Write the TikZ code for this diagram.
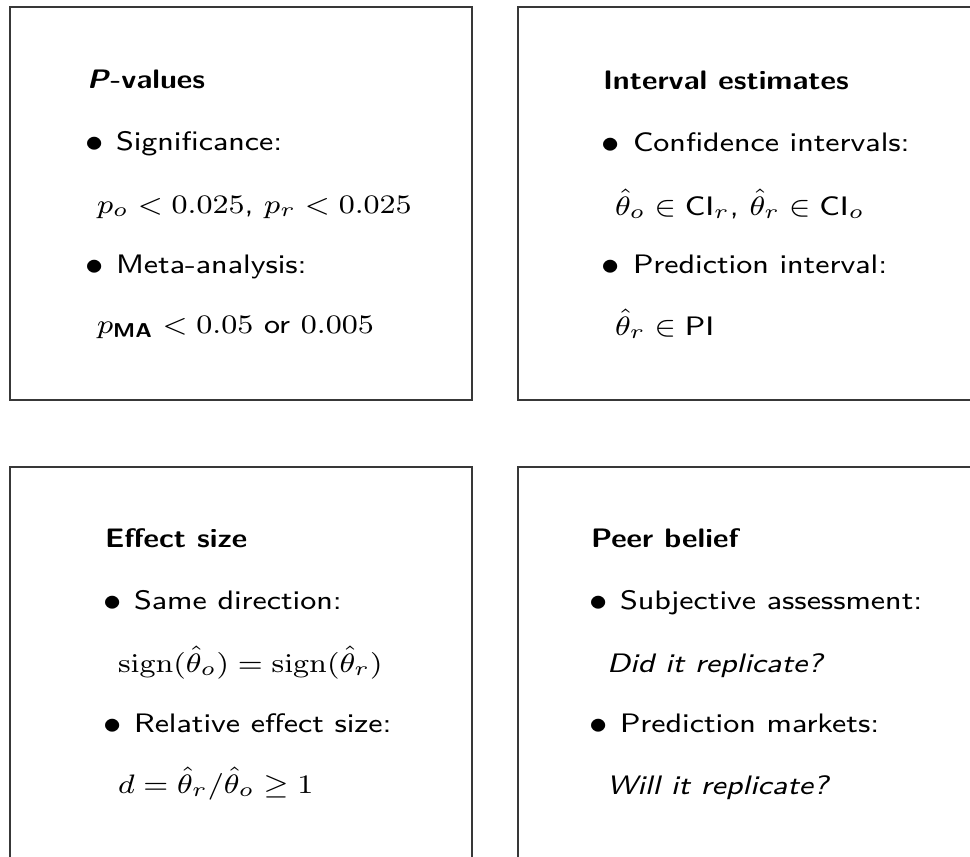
\documentclass[tikz,border=0pt]{standalone}
\usepackage{amsmath}
\usepackage{amssymb}
\tikzset{
  panel/.style={draw=black!78, line width=1.6pt},
  txt/.style={anchor=base west, inner sep=0pt, outer sep=0pt, xscale=3.77, yscale=3.34, font=\fontsize{8}{10}\selectfont\sffamily},
  ttl/.style={txt, font=\fontsize{8}{10}\selectfont\sffamily\bfseries},
  bul/.style={anchor=base west, inner sep=0pt, outer sep=0pt, xscale=4.3, yscale=3.9, font=\fontsize{8}{10}\selectfont},
}
\begin{document}
\begin{tikzpicture}[x=1pt,y=-1pt]
\useasboundingbox (0,0) rectangle (970,857);
\clip (0,0) rectangle (970,857);
\draw[panel] (10,7) rectangle (472,400);
\draw[panel] (518,7) rectangle (990,400);
\draw[panel] (10,467) rectangle (472,880);
\draw[panel] (518,467) rectangle (990,880);
% top left
\node[ttl] (t1) at (87,88) {\textit{P}-values};
\node[bul] (b1a) at (85,151) {$\bullet$};
\node[txt] (l1a) at (116,150) {Significance:};
\node[txt] (m1a) at (97,213) {$p_o < 0.025$, $p_r < 0.025$};
\node[bul] (b1b) at (85,274) {$\bullet$};
\node[txt] (l1b) at (116,273) {Meta-analysis:};
\node[txt] (m1b) at (97,333) {$p_{\textsf{\textbf{MA}}} < 0.05$ or $0.005$};
% top right
\node[ttl] (t2) at (603,89) {Interval estimates};
\node[bul] (b2a) at (601,152) {$\bullet$};
\node[txt] (l2a) at (633,151) {Confidence intervals:};
\node[txt] (m2a) at (615,215) {$\hat\theta_o \in \mathsf{CI}_r$, $\hat\theta_r \in \mathsf{CI}_o$};
\node[bul] (b2b) at (601,274) {$\bullet$};
\node[txt] (l2b) at (633,273) {Prediction interval:};
\node[txt] (m2b) at (615,335) {$\hat\theta_r \in \mathsf{PI}$};
% bottom left
\node[ttl] (t3) at (105,547) {Effect size};
\node[bul] (b3a) at (103,610) {$\bullet$};
\node[txt] (l3a) at (134,609) {Same direction:};
\node[txt] (m3a) at (118,672) {$\mathrm{sign}(\hat\theta_o) = \mathrm{sign}(\hat\theta_r)$};
\node[bul] (b3b) at (103,733) {$\bullet$};
\node[txt] (l3b) at (134,732) {Relative effect size:};
\node[txt] (m3b) at (118,793) {$d = \hat\theta_r/\hat\theta_o \geq 1$};
% bottom right
\node[ttl] (t4) at (591,547) {Peer belief};
\node[bul] (b4a) at (589,610) {$\bullet$};
\node[txt] (l4a) at (620,609) {Subjective assessment:};
\node[txt] (m4a) at (607,672) {\itshape Did it replicate?};
\node[bul] (b4b) at (589,733) {$\bullet$};
\node[txt] (l4b) at (620,732) {Prediction markets:};
\node[txt] (m4b) at (607,794) {\itshape Will it replicate?};
\end{tikzpicture}
\end{document}
